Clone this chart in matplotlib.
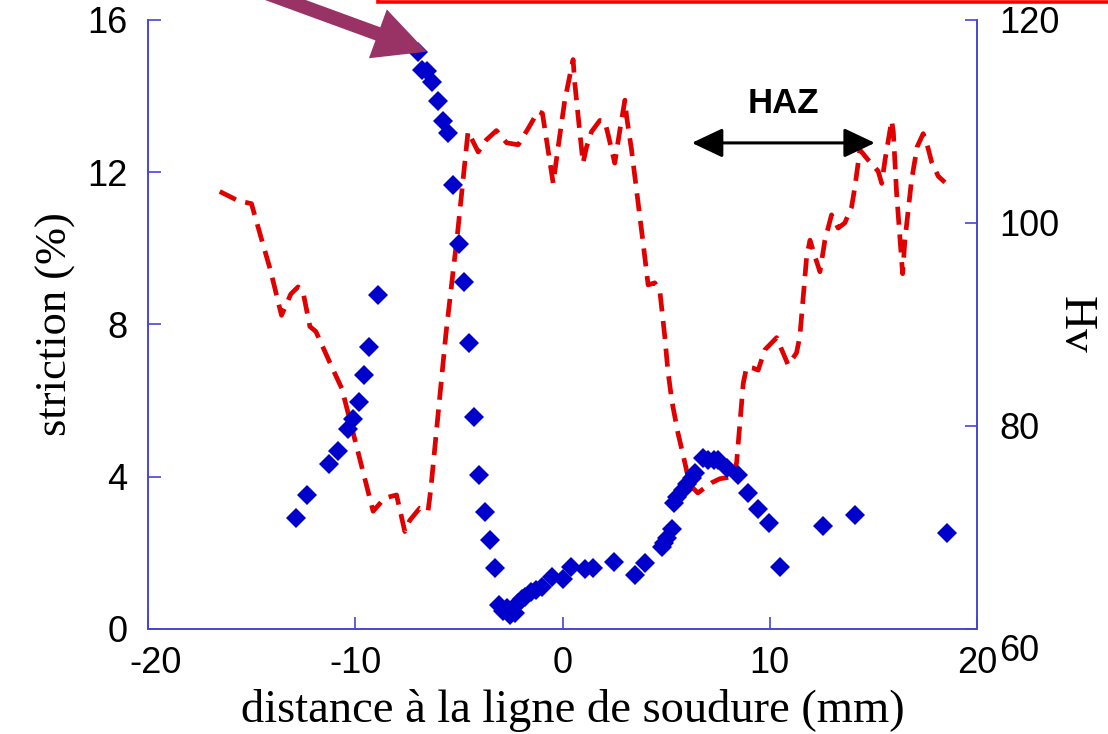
import matplotlib
matplotlib.use("Agg")
import matplotlib.pyplot as plt
from matplotlib.patches import FancyArrow, Rectangle
from matplotlib.transforms import IdentityTransform, ScaledTranslation

# --- striction (losanges bleus, axe gauche) ---
dist_striction = [-12.84, -12.33, -11.29, -10.81, -10.33, -10.09, -9.82, -9.58, -9.32, -8.91,
                  -6.97, -6.76, -6.53, -6.29, -6.03, -5.76, -5.55, -5.28, -5.00, -4.76,
                  -4.52, -4.27, -4.04, -3.76, -3.52, -3.28, -3.07, -2.85, -2.70, -2.55,
                  -2.30, -2.14, -1.95, -1.82, -1.50, -1.30, -1.01, -0.53, 0.03, 0.43,
                  1.08, 1.48, 2.48, 3.49, 3.97, 4.78, 4.90, 5.02, 5.26, 5.40,
                  5.50, 5.82, 6.00, 6.23, 6.39, 6.79, 7.03, 7.30, 7.51, 7.92,
                  8.47, 8.96, 9.44, 9.97, 10.51, 12.55, 14.11, 18.53]
striction = [2.92, 3.52, 4.34, 4.68, 5.25, 5.52, 5.97, 6.66, 7.40, 8.78,
             15.17, 14.69, 14.67, 14.38, 13.88, 13.35, 13.04, 11.66, 10.11, 9.11,
             7.51, 5.56, 4.05, 3.07, 2.35, 1.59, 0.63, 0.48, 0.54, 0.38,
             0.43, 0.68, 0.78, 0.85, 0.98, 1.02, 1.11, 1.37, 1.31, 1.64,
             1.57, 1.59, 1.77, 1.42, 1.73, 2.16, 2.25, 2.38, 2.62, 3.30,
             3.48, 3.65, 3.80, 3.96, 4.09, 4.49, 4.44, 4.45, 4.44, 4.22,
             4.05, 3.58, 3.15, 2.78, 1.62, 2.71, 3.00, 2.51]

# --- durete Hv (tirets rouges, axe droit) ---
dist_hv = [-16.54, -15.66, -15.01, -14.51, -14.10, -13.56, -13.11, -12.76, -12.53, -12.19,
           -11.90, -11.04, -10.65, -9.14, -8.58, -8.01, -7.61, -7.37, -6.89, -6.49,
           -6.36, -5.63, -5.05, -4.56, -4.07, -3.67, -3.19, -2.70, -2.14, -1.66,
           -1.18, -0.97, -0.45, -0.21, 0.11, 0.51, 0.59, 0.83, 0.99, 1.16,
           1.40, 1.80, 2.04, 2.20, 2.52, 2.77, 3.01, 3.09, 3.33, 3.89,
           4.13, 4.45, 4.70, 4.94, 5.08, 5.28, 5.56, 5.90, 6.14, 6.53,
           7.19, 7.59, 8.22, 8.40, 8.72, 8.88, 9.20, 9.44, 9.76, 10.33,
           10.89, 11.29, 11.45, 11.78, 11.94, 12.18, 12.42, 12.66, 12.98, 13.30,
           13.62, 13.95, 14.11, 14.35, 14.75, 15.23, 15.40, 15.56, 15.88, 15.96,
           16.12, 16.41, 16.52, 16.84, 17.11, 17.40, 17.57, 17.81, 18.13, 18.45]
hv = [103.1, 102.2, 101.9, 98.3, 95.4, 90.9, 93.0, 93.7, 93.3, 89.8,
      89.3, 85.4, 83.7, 71.6, 72.9, 73.2, 69.6, 70.7, 71.9, 71.6,
      73.7, 89.0, 99.3, 109.0, 107.0, 108.2, 109.1, 107.9, 107.7, 109.3,
      111.0, 110.8, 103.9, 107.5, 112.1, 116.1, 113.8, 109.0, 105.9, 107.5,
      109.0, 110.1, 110.0, 108.7, 105.9, 109.2, 112.1, 110.5, 107.2, 98.0,
      93.9, 94.1, 93.2, 88.7, 85.5, 82.4, 79.4, 76.4, 74.2, 73.4,
      74.4, 74.8, 75.0, 76.4, 84.2, 85.8, 85.7, 85.5, 87.5, 88.7,
      86.0, 87.2, 88.8, 96.7, 98.3, 96.7, 95.2, 98.3, 100.8, 99.5,
      100.0, 101.6, 103.6, 107.2, 106.2, 105.1, 103.9, 106.2, 110.1, 109.0,
      102.9, 95.0, 98.3, 104.2, 107.5, 108.8, 107.9, 106.0, 104.6, 104.0]

xticks = [-20, -10, 0, 10, 20]
yticks_striction = [0, 4, 8, 12, 16]
yticks_hv = [60, 80, 100, 120]

# zone HAZ (mm) et hauteur de la fleche (en % de striction)
haz_debut, haz_fin, haz_niveau = 6.24, 15.07, 12.77

BLEU_AXE = '#4646d6'
plt.rcParams['lines.scale_dashes'] = False
plt.rcParams['axes.unicode_minus'] = False

fig = plt.figure(figsize=(11.08, 7.34), dpi=100)
ax = fig.add_axes([0.1336, 0.1431, 0.7482, 0.8297])
ax2 = ax.twinx()
# les losanges passent devant la courbe rouge
ax.set_zorder(ax2.get_zorder() + 1)
ax.patch.set_visible(False)

ax2.plot(dist_hv, hv, color='#e00000', lw=3.4, dashes=(13, 7), solid_capstyle='butt')
ax.plot(dist_striction, striction, 'D', color='#0000cc', ms=10.5, mew=0, ls='none')

ax.set_xlim(-20, 20)
ax.set_ylim(0, 16)
ax2.set_ylim(60, 120)
ax.set_xticks(xticks)
ax.set_yticks(yticks_striction)
ax2.set_yticks(yticks_hv)

for a in (ax, ax2):
    a.spines['top'].set_visible(False)
    for s in ('left', 'right', 'bottom'):
        a.spines[s].set_color(BLEU_AXE)
        a.spines[s].set_linewidth(1.2)
ax.tick_params(axis='both', direction='in', length=9, width=1.2, color=BLEU_AXE,
               labelsize=26, pad=15)
ax.tick_params(axis='x', pad=12)
ax2.tick_params(axis='y', direction='in', length=9, width=1.2, color=BLEU_AXE,
                labelsize=26, pad=16)
for lab in ax.get_xticklabels() + ax.get_yticklabels() + ax2.get_yticklabels():
    lab.set_fontfamily('Liberation Sans')

# petits decalages des etiquettes qui se chevauchent dans les coins
lab_m20 = ax.get_xticklabels()[0]
lab_m20.set_transform(lab_m20.get_transform() + ScaledTranslation(0.08, 0, fig.dpi_scale_trans))
lab_60 = ax2.get_yticklabels()[0]
lab_60.set_transform(lab_60.get_transform() + ScaledTranslation(0, -0.19, fig.dpi_scale_trans))

ax.set_xlabel('distance à la ligne de soudure (mm)', fontfamily='Liberation Serif',
              fontsize=33.5, labelpad=8)
ax.xaxis.set_label_coords(0.512, -0.099)
ax.set_ylabel('striction (%)', fontfamily='Liberation Serif', fontsize=32, labelpad=8)
ax2.set_ylabel('Hv', fontfamily='Liberation Serif', fontsize=34, rotation=270,
               labelpad=26)

# fleche HAZ
ax.annotate('', xy=(haz_debut, haz_niveau), xytext=(haz_fin, haz_niveau),
            arrowprops=dict(arrowstyle='<|-|>,head_length=0.95,head_width=0.45',
                            mutation_scale=20, lw=2.2, color='black',
                            shrinkA=0, shrinkB=0))
ax.text((haz_debut + haz_fin) / 2, 13.8, 'HAZ', ha='center', va='center',
        fontsize=25, fontweight='bold', fontfamily='Liberation Sans')

# fleche violette et cadre rouge coupes en haut (restes de la diapositive)
fig.patches.append(FancyArrow(258, 744, 168.7, -61.7, width=14, head_width=52,
                              head_length=52, length_includes_head=True,
                              color='#993366', lw=0, transform=IdentityTransform(),
                              zorder=10))
fig.patches.append(Rectangle((378, 732), 800, 40, facecolor='white', edgecolor='#ff0000',
                             lw=2.6, transform=IdentityTransform(), zorder=10))

fig.savefig('out.png', dpi=100)
